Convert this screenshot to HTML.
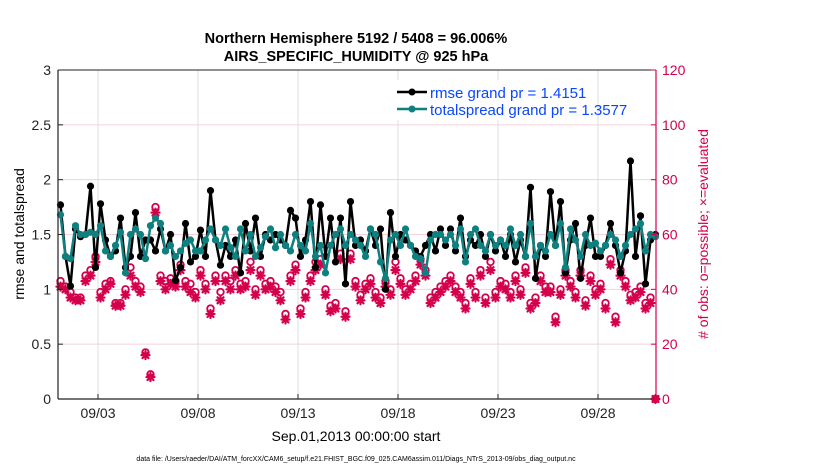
<!DOCTYPE html>
<html><head><meta charset="utf-8"><style>
body{margin:0;background:#fff;}
svg{display:block;font-family:"Liberation Sans",Arial,sans-serif;}
</style></head><body>
<svg id="chart" width="830" height="470" viewBox="0 0 830 470">
<text x="356" y="43" text-anchor="middle" font-size="14.5" font-weight="bold">Northern Hemisphere 5192 / 5408 = 96.006%</text>
<text x="356" y="61" text-anchor="middle" font-size="14.5" font-weight="bold">AIRS_SPECIFIC_HUMIDITY @ 925 hPa</text>
<g id="grid"></g>
<g id="series"></g>
<g id="axes"></g>
<text transform="translate(24,234) rotate(-90)" text-anchor="middle" font-size="14">rmse and totalspread</text>
<text transform="translate(708,234) rotate(-90)" text-anchor="middle" font-size="14" fill="#d4004c"># of obs: o=possible; ×=evaluated</text>
<text x="356" y="441" text-anchor="middle" font-size="14">Sep.01,2013 00:00:00 start</text>
<text x="356" y="461" text-anchor="middle" font-size="7">data file: /Users/raeder/DAI/ATM_forcXX/CAM6_setup/f.e21.FHIST_BGC.f09_025.CAM6assim.011/Diags_NTrS_2013-09/obs_diag_output.nc</text>
<g>
<rect x="392" y="80" width="180" height="40" fill="#fff"/>
<g>
<line x1="397" y1="92" x2="427" y2="92" stroke="#000" stroke-width="2.5"/>
<circle cx="412" cy="92" r="3.5" fill="#000"/>
<text x="430" y="98" font-size="15" fill="#0a46ff">rmse grand pr = 1.4151</text></g>
<g>
<line x1="397" y1="109" x2="427" y2="109" stroke="#0e8080" stroke-width="2.5"/>
<circle cx="412" cy="109" r="3.5" fill="#0e8080"/>
<text x="430" y="115" font-size="15" fill="#0a46ff">totalspread grand pr = 1.3577</text></g>
</g>
</svg>
<script>
const rmse=[1.77,1.30,1.03,1.55,1.48,1.50,1.94,1.20,1.78,1.45,
1.30,1.35,1.65,1.20,1.30,1.70,1.30,1.45,1.45,1.35,
1.55,1.35,1.50,1.08,1.20,1.60,1.25,1.30,1.54,1.30,
1.90,1.45,1.22,1.40,1.30,1.45,1.15,1.60,1.35,1.65,
1.30,1.50,1.45,1.50,1.45,1.40,1.72,1.65,1.30,1.45,
1.80,1.20,1.77,1.30,1.65,1.25,1.65,1.05,1.80,1.40,
1.45,1.35,1.55,1.40,1.55,1.00,1.70,1.30,1.50,1.45,
1.40,1.35,1.30,1.40,1.50,1.35,1.55,1.40,1.55,1.35,
1.65,1.30,1.45,1.40,1.50,1.30,1.50,1.35,1.45,1.30,
1.50,1.25,1.45,1.30,1.93,1.10,1.40,1.30,1.89,1.40,
1.80,1.15,1.45,1.60,1.10,1.40,1.65,1.30,1.30,1.40,
1.60,1.40,1.15,1.35,2.17,1.30,1.67,1.05,1.45,1.50];
const spread=[1.68,1.30,1.28,1.58,1.50,1.50,1.52,1.50,1.58,1.35,
1.30,1.40,1.52,1.15,1.50,1.55,1.50,1.28,1.58,1.65,
1.60,1.35,1.40,1.30,1.35,1.42,1.45,1.35,1.35,1.45,
1.55,1.45,1.40,1.55,1.38,1.30,1.55,1.35,1.50,1.30,
1.38,1.48,1.55,1.38,1.50,1.40,1.35,1.50,1.40,1.35,
1.60,1.30,1.40,1.15,1.40,1.50,1.55,1.40,1.50,1.45,
1.40,1.30,1.55,1.50,1.25,1.10,1.45,1.50,1.40,1.55,
1.40,1.30,1.28,1.15,1.45,1.50,1.50,1.45,1.50,1.40,
1.55,1.25,1.50,1.55,1.40,1.35,1.50,1.40,1.45,1.40,
1.55,1.40,1.50,1.30,1.60,1.30,1.40,1.35,1.50,1.40,
1.60,1.20,1.55,1.45,1.30,1.50,1.40,1.42,1.35,1.40,
1.50,1.45,1.30,1.40,1.50,1.55,1.60,1.35,1.50,1.48];
const possible=[43,41,39,37,37,45,47,52,39,42,
43,35,35,40,48,43,41,17,9,70,
45,43,44,43,49,43,42,39,47,42,
33,45,39,45,43,47,42,43,50,40,
47,42,43,41,39,31,45,49,33,39,
45,50,51,40,34,35,53,32,53,43,
38,42,44,39,37,43,40,50,44,40,
42,45,51,47,37,39,41,43,45,41,
39,35,44,39,47,37,50,39,43,42,
39,45,40,48,35,37,45,41,41,30,
40,47,43,39,47,36,45,40,42,35,
51,30,47,43,38,39,41,35,37,0];
const evaluated=[41,40,37,36,36,43,45,50,37,40,
42,34,34,38,45,41,39,16,8,68,
43,40,42,41,47,41,39,37,45,40,
31,43,36,43,40,45,40,41,47,38,
45,40,41,39,36,29,43,47,31,37,
43,47,49,38,32,33,51,30,51,41,
36,40,42,37,35,41,38,47,42,38,
40,43,49,45,35,37,39,41,43,39,
37,33,42,37,45,35,47,37,41,40,
37,43,38,46,33,35,43,39,39,28,
38,45,41,37,45,34,43,38,40,33,
49,28,45,41,36,37,39,33,35,0];
const leftTicks=[0,0.5,1,1.5,2,2.5,3];
const leftTickLabels=["0","0.5","1","1.5","2","2.5","3"];
const rightTicks=[0,20,40,60,80,100,120];
const xTickDays=[2,7,12,17,22,27];
const xTickLabels=["09/03","09/08","09/13","09/18","09/23","09/28"];

const X0=58,X1=656,Y0=399,Y1=70;
const DMAX=29.9;
const sx=d=>X0+(d/DMAX)*(X1-X0);
const syL=v=>Y0-(v/3)*(Y0-Y1);
const syR=v=>Y0-(v/120)*(Y0-Y1);
const tOf=i=>0.125+0.25*i;
const NS="http://www.w3.org/2000/svg";
function mk(tag,attrs,parent){const e=document.createElementNS(NS,tag);for(const k in attrs)e.setAttribute(k,attrs[k]);parent.appendChild(e);return e;}
const grid=document.getElementById('grid'),ser=document.getElementById('series'),axes=document.getElementById('axes');
mk('rect',{x:X0,y:Y1,width:X1-X0,height:Y0-Y1,fill:'#fff'},grid);
leftTicks.forEach(v=>{const l=mk('line',{x1:X0,x2:X1,y1:syL(v),y2:syL(v),stroke:'#f3d0de','stroke-width':1},grid);

});
xTickDays.forEach(d=>{const l=mk('line',{x1:sx(d),x2:sx(d),y1:Y1,y2:Y0,stroke:'#dcdcdc','stroke-width':1},grid);

});

function line(vals,sy,color,name){
 const pts=vals.map((v,i)=>sx(tOf(i)).toFixed(1)+','+sy(v).toFixed(1)).join(' ');
 const p=mk('polyline',{points:pts,fill:'none',stroke:color,'stroke-width':2.5,'stroke-linejoin':'round'},ser);
 
 
 vals.forEach((v,i)=>{const c=mk('circle',{cx:sx(tOf(i)),cy:sy(v),r:3.6,fill:color},ser);
 
 });
}
evaluated.forEach((v,i)=>{const x=sx(tOf(i)),y=syR(v);
 const g=mk('g',{stroke:'#d4004c','stroke-width':2.2,'stroke-linecap':'round'},ser);
 
 
 mk('line',{x1:x-4,y1:y,x2:x+4,y2:y},g);mk('line',{x1:x,y1:y-4,x2:x,y2:y+4},g);
 mk('line',{x1:x-3,y1:y-3,x2:x+3,y2:y+3},g);mk('line',{x1:x-3,y1:y+3,x2:x+3,y2:y-3},g);});
possible.forEach((v,i)=>{const c=mk('circle',{cx:sx(tOf(i)),cy:syR(v),r:3.3,fill:'none',stroke:'#d4004c','stroke-width':1.8},ser);
 
 });
line(rmse,syL,'#000','rmse');
line(spread,syL,'#0e8080','totalspread');

mk('line',{x1:X0,x2:X1,y1:Y1,y2:Y1,stroke:'#222','stroke-width':1},axes);
mk('line',{x1:X0,x2:X1,y1:Y0,y2:Y0,stroke:'#222','stroke-width':1.2},axes);
mk('line',{x1:X0,x2:X0,y1:Y1,y2:Y0,stroke:'#222','stroke-width':1.2},axes);
mk('line',{x1:X1,x2:X1,y1:Y1,y2:Y0,stroke:'#d4004c','stroke-width':1.2},axes);
leftTicks.forEach((v,i)=>{mk('line',{x1:X0,x2:X0+5,y1:syL(v),y2:syL(v),stroke:'#222'},axes);
 const t=mk('text',{x:X0-7,y:syL(v)+5,'text-anchor':'end','font-size':14,fill:'#222'},axes);t.textContent=leftTickLabels[i];
 
 });
rightTicks.forEach(v=>{mk('line',{x1:X1-5,x2:X1,y1:syR(v),y2:syR(v),stroke:'#d4004c'},axes);
 const t=mk('text',{x:X1+6,y:syR(v)+5,'font-size':14,fill:'#d4004c'},axes);t.textContent=String(v);
 
 });
xTickDays.forEach((d,i)=>{mk('line',{x1:sx(d),x2:sx(d),y1:Y0,y2:Y0-5,stroke:'#222'},axes);
 const t=mk('text',{x:sx(d),y:Y0+19,'text-anchor':'middle','font-size':14,fill:'#222'},axes);t.textContent=xTickLabels[i];
 
 });
</script>
</body></html>
